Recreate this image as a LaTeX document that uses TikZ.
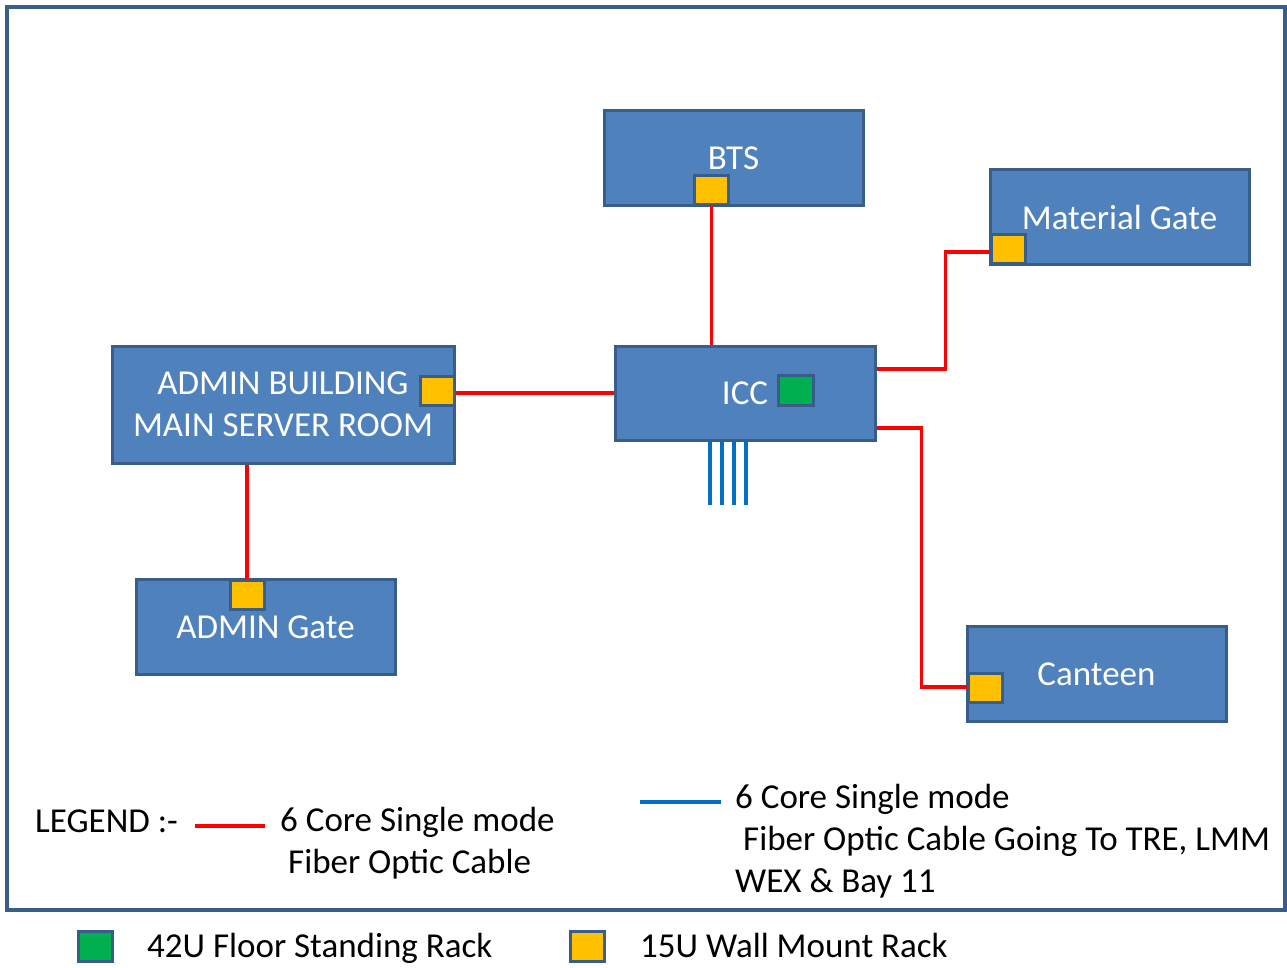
\documentclass[tikz,border=0pt]{standalone}
\usepackage{fontspec}
\setmainfont{Carlito}
\usetikzlibrary{positioning}
\definecolor{boxblue}{HTML}{4F81BD}
\definecolor{boxedge}{HTML}{385D8A}
\definecolor{rackyellow}{HTML}{FFC000}
\definecolor{rackgreen}{HTML}{00B050}
\definecolor{cableblue}{HTML}{0070C0}
\tikzset{
  building/.style={rectangle, draw=boxedge, fill=boxblue, line width=3pt, minimum width=259pt, minimum height=95pt, align=center, text=white, font=\fontsize{35}{42}\selectfont, inner sep=0pt},
  wallrack/.style={rectangle, draw=boxedge, fill=rackyellow, line width=3pt, minimum width=34pt, minimum height=29pt, inner sep=0pt},
  floorrack/.style={wallrack, fill=rackgreen},
  fibre/.style={red, line width=3.2pt},
  extcable/.style={cableblue, line width=3.5pt},
  legendtext/.style={anchor=west, align=left, inner sep=0pt, font=\fontsize{35}{42}\selectfont}
}

\begin{document}
\begin{tikzpicture}[x=1pt, y=-1pt]
  \useasboundingbox (0,0) rectangle (1287,968);
  \draw[boxedge, line width=3.2pt] (7,7) rectangle (1285,910);
  % buildings
  \node[building] (bts) at (733.5,158.5) {BTS};
  \node[building] (matgate) at (1119.5,217) {Material Gate};
  \node[building, minimum width=260pt, minimum height=94pt] (icc) at (745,393) {ICC};
  \node[building] (canteen) at (1096.5,674) {Canteen};
  \node[building, minimum width=342pt, minimum height=117pt] (admin) at (283,404.5) {ADMIN BUILDING\\MAIN SERVER ROOM};
  \node[building] (admingate) at (265.5,627) {ADMIN Gate};
  % racks
  \node[wallrack] (btsrack) at (711.5,190.5) {};
  \node[wallrack] (matrack) at (1008.5,249.5) {};
  \node[floorrack, minimum width=35pt, minimum height=30pt] (iccrack) at (795.5,390) {};
  \node[wallrack] (canrack) at (985.5,688) {};
  \node[wallrack] (adminrack) at (437,390.5) {};
  \node[wallrack] (gaterack) at (247,594.5) {};
  % fibre links
  \draw[fibre] (btsrack.south) -- (btsrack.south |- icc.north);
  \draw[fibre] ([yshift=-2.5pt]adminrack.east) -- ([yshift=-2.5pt]adminrack.east -| icc.west);
  \draw[fibre] ([yshift=24pt]icc.east) -- ++(69,0) |- ([yshift=-2.5pt]matrack.west);
  \draw[fibre] ([yshift=-35pt]icc.east) -- ++(45,0) |- ([yshift=1pt]canrack.west);
  \draw[fibre] (gaterack.north |- admin.south) -- (gaterack.north);
  \foreach \dx in {-35,-23,-11,1}
    \draw[extcable] ([xshift=\dx pt]icc.south) -- ++(0,63);
  % legend
  \node[legendtext] (legend) at (35,821) {LEGEND :-};
  \coordinate (redA) at (195,826);
  \coordinate (redB) at (265,826);
  \draw[fibre] (redA) -- (redB);
  \node[legendtext] (redtext) at (280,843) {6 Core Single mode\\\hspace*{8pt}Fiber Optic Cable};
  \coordinate (blueA) at (640,802);
  \coordinate (blueB) at (721,802);
  \draw[extcable] (blueA) -- (blueB);
  \node[legendtext] (bluetext) at (735,841) {6 Core Single mode\\\hspace*{8pt}Fiber Optic Cable Going To TRE, LMM\\WEX \& Bay 11};
  \node[floorrack, minimum width=34pt, minimum height=30pt] (keygreen) at (95.5,946) {};
  \node[legendtext, anchor=base west] (keygreentext) at (147,957) {42U Floor Standing Rack};
  \node[wallrack, minimum height=30pt] (keyyellow) at (587.5,946) {};
  \node[legendtext, anchor=base west] (keyyellowtext) at (640,957) {15U Wall Mount Rack};
\end{tikzpicture}
\end{document}
